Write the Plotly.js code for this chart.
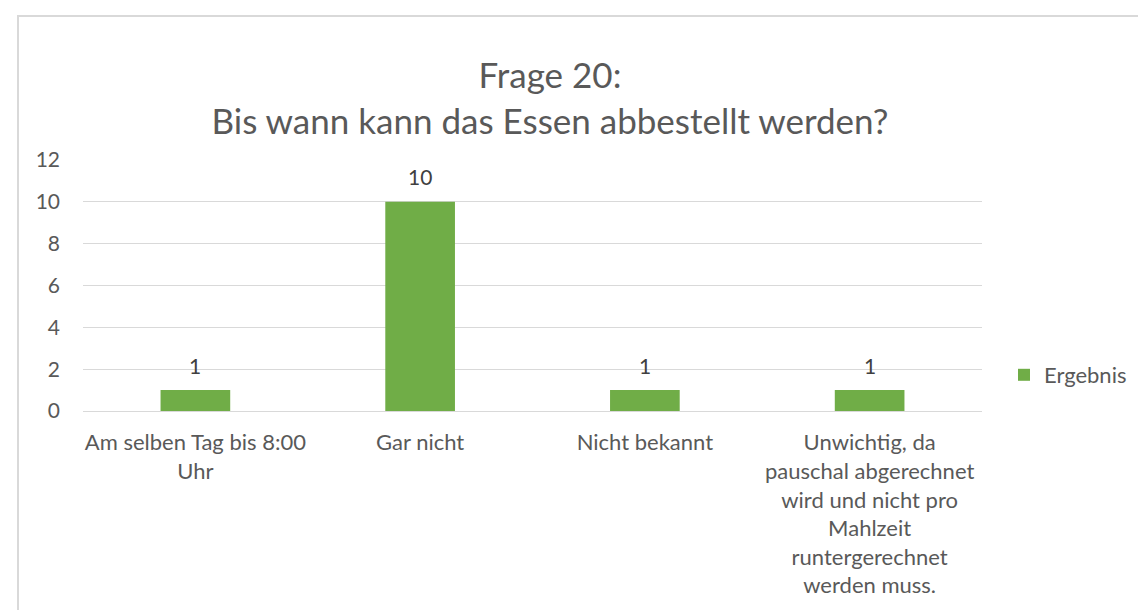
<!DOCTYPE html>
<html>
<head>
<meta charset="utf-8">
<script src="https://cdn.plot.ly/plotly-3.0.1.min.js"></script>
<style>
  html, body { margin: 0; padding: 0; background: #fff; overflow: hidden; }
  #chart { width: 1138px; height: 610px; }
  #frame { position: absolute; left: 17px; top: 15px; width: 1200px; height: 700px;
           border-left: 2px solid #D9D9D9; border-top: 2px solid #D9D9D9; pointer-events: none; }
</style>
</head>
<body>
<div id="chart"></div>
<div id="frame"></div>
<script>
const categories = [
  "Am selben Tag bis 8:00<br>Uhr",
  "Gar nicht",
  "Nicht bekannt",
  "Unwichtig, da<br>pauschal abgerechnet<br>wird und nicht pro<br>Mahlzeit<br>runtergerechnet<br>werden muss."
];
const values = [1, 10, 1, 1];
const seriesName = "Ergebnis";
const yTicks = [0, 2, 4, 6, 8, 10, 12];

const FONT = "Lato, 'Open Sans', sans-serif";

const trace = {
  type: "bar",
  x: categories,
  y: values,
  name: seriesName,
  marker: { color: "#70AD47" },
  showlegend: true,
  hoverinfo: "x+y"
};

const labelAnnotations = categories.map(function (c, i) {
  return {
    x: c, y: values[i], xref: "x", yref: "y",
    text: String(values[i]),
    showarrow: false,
    yanchor: "middle",
    yshift: 25,
    font: { family: FONT, size: 21, color: "#404040" }
  };
});

const layout = {
  width: 1138,
  height: 610,
  paper_bgcolor: "#fff",
  plot_bgcolor: "#fff",
  margin: { l: 83, r: 156, t: 160, b: 199 },
  font: { family: FONT, color: "#595959" },
  title: {
    text: "Frage 20:<br>Bis wann kann das Essen abbestellt werden?",
    font: { family: FONT, size: 35, color: "#595959" },
    xref: "container",
    x: 550 / 1138,
    xanchor: "center",
    yref: "container",
    y: 1 - 88 / 610,
    yanchor: "middle"
  },
  bargap: 0.69,
  annotations: labelAnnotations,
  xaxis: {
    type: "category",
    showgrid: false,
    showline: true,
    linecolor: "#D9D9D9",
    linewidth: 1,
    ticks: "",
    ticklabelstandoff: 12,
    tickfont: { family: FONT, size: 22, color: "#595959" },
    tickangle: 0,
    automargin: false
  },
  yaxis: {
    range: [0, 12],
    tickvals: yTicks,
    ticktext: yTicks.map(String),
    showgrid: true,
    gridcolor: "#D9D9D9",
    gridwidth: 1,
    zeroline: false,
    showline: false,
    ticks: "",
    ticklabelstandoff: 22,
    tickfont: { family: FONT, size: 21, color: "#595959" },
    automargin: false
  },
  showlegend: true,
  legend: {
    xref: "container",
    yref: "container",
    x: 1004 / 1138,
    y: 1 - 375 / 610,
    xanchor: "left",
    yanchor: "middle",
    font: { family: FONT, size: 22, color: "#595959" },
    itemwidth: 30,
    bgcolor: "rgba(0,0,0,0)"
  }
};

Plotly.newPlot("chart", [trace], layout, { displayModeBar: false, staticPlot: true });
</script>
</body>
</html>
